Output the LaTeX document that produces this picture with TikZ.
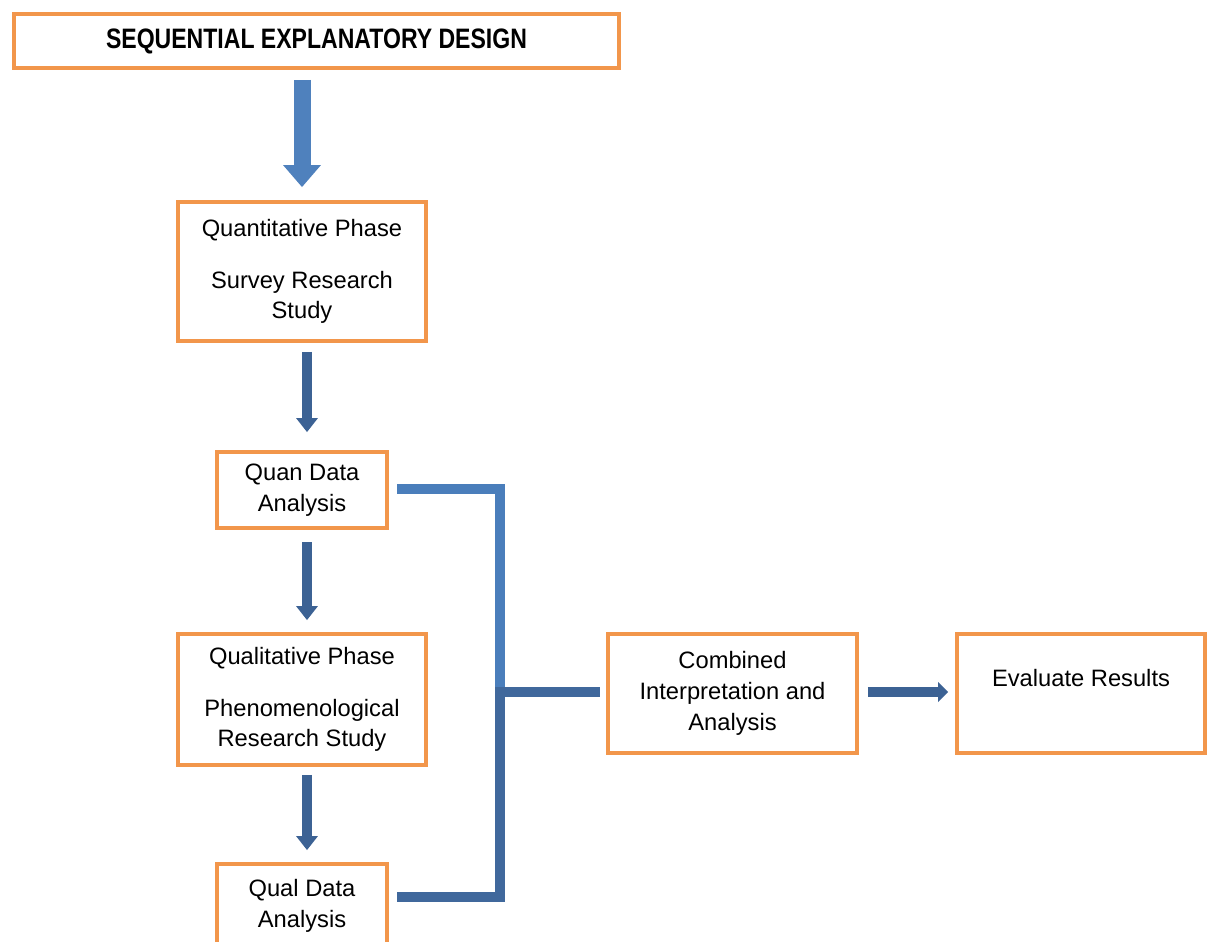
\documentclass[tikz,border=0pt]{standalone}
\usepackage{fontspec}
\setmainfont{Liberation Sans}
\newfontfamily\titlefont[FakeStretch=0.82]{Liberation Sans}
\usetikzlibrary{arrows.meta}
\definecolor{boxorange}{RGB}{242,150,75}
\definecolor{arrowblue}{RGB}{79,129,189}
\definecolor{arrowdark}{RGB}{60,98,148}
\definecolor{barlight}{RGB}{74,126,187}
\definecolor{bardark}{RGB}{64,104,156}

\begin{document}
\begin{tikzpicture}[x=0.02cm,y=-0.02cm,
    box/.style={draw=boxorange,line width=0.08cm,inner sep=0pt,align=center,
      font=\fontsize{13.5}{17.5}\selectfont},
    smallarrow/.style={arrowdark,line width=0.2cm,
      -{Triangle[width=0.44cm,length=0.28cm,line width=0pt]}},
    bar/.style={line width=0.2cm}]
    \useasboundingbox (0,0) rectangle (1208,941);
    \clip (0,0) rectangle (1208,941);
    \fill[white] (0,0) rectangle (1208,941);

    % titolo
    \node[box,minimum width=12.1cm,minimum height=1.08cm] (title) at (316.5,41)
      {\titlefont\bfseries\fontsize{16}{18}\selectfont SEQUENTIAL EXPLANATORY DESIGN};

    % fase quantitativa
    \node[box,minimum width=4.96cm,minimum height=2.78cm] (quant) at (302,271.5)
      {Quantitative Phase\\[12pt] Survey Research\\ Study};
    \node[box,minimum width=3.42cm,minimum height=1.52cm] (quan) at (302,490)
      {Quan Data\\ Analysis};

    % fase qualitativa
    \node[box,minimum width=4.96cm,minimum height=2.62cm] (qualph) at (302,699.5)
      {Qualitative Phase\\[12pt] Phenomenological\\ Research Study};
    \node[box,minimum width=3.42cm,minimum height=1.68cm] (qualda) at (302,906)
      {Qual Data\\ Analysis};

    % interpretazione e valutazione
    \node[box,minimum width=4.98cm,minimum height=2.38cm] (comb) at (732.5,693.5)
      {Combined\\ Interpretation and\\ Analysis};
    \node[box,minimum width=4.96cm,minimum height=2.38cm] (eval) at (1081,693.5)
      {Evaluate Results\\ \mbox{}};

    % frecce
    \draw[arrowblue,line width=0.34cm,
      -{Triangle[width=0.76cm,length=0.44cm,line width=0pt]},
      shorten <=0.2cm,shorten >=0.26cm] (title.south -| quant.north) -- (quant.north);
    \draw[smallarrow,shorten <=0.18cm,shorten >=0.36cm]
      ([xshift=0.1cm]quant.south) -- ([xshift=0.1cm]quan.north);
    \draw[smallarrow,shorten <=0.24cm,shorten >=0.24cm]
      ([xshift=0.1cm]quan.south) -- ([xshift=0.1cm]qualph.north);
    \draw[smallarrow,shorten <=0.16cm,shorten >=0.24cm]
      ([xshift=0.1cm]qualph.south) -- ([xshift=0.1cm]qualda.north);
    \draw[smallarrow,-{Triangle[width=0.4cm,length=0.2cm,line width=0pt]},
      shorten <=0.18cm,shorten >=0.14cm]
      ([yshift=0.03cm]comb.east) -- ([yshift=0.03cm]eval.west);

    % collegamento
    \coordinate (join) at (500,692);
    \draw[bar,barlight] ([xshift=0.16cm,yshift=0.02cm]quan.east) -| (join);
    \draw[bar,bardark] ([xshift=0.16cm,yshift=0.18cm]qualda.east) -| (join);
    \draw[bar,bardark,shorten <=-0.1cm,shorten >=0.12cm] (join) -- (join -| comb.west);
\end{tikzpicture}
\end{document}
